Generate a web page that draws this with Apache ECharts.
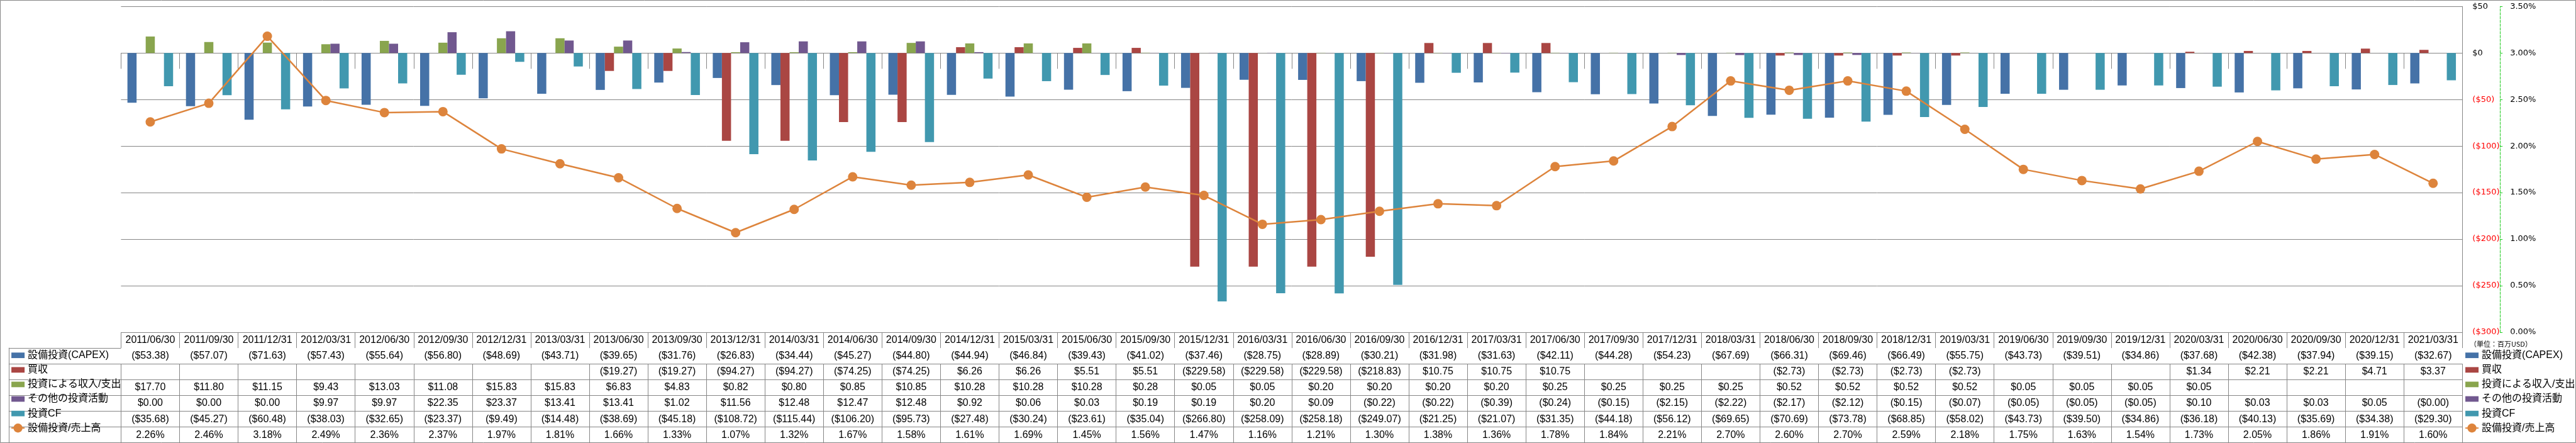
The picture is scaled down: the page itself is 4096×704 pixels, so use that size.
<!DOCTYPE html>
<html><head><meta charset="utf-8">
<script src="https://cdn.jsdelivr.net/npm/echarts@6/dist/echarts.min.js"></script>
<style>html,body{margin:0;padding:0;background:#fff}#c{width:4096px;height:704px}</style>
</head><body><div id="c"></div>
<script>
const categories = ['2011/06/30','2011/09/30','2011/12/31','2012/03/31','2012/06/30','2012/09/30','2012/12/31','2013/03/31','2013/06/30','2013/09/30','2013/12/31','2014/03/31','2014/06/30','2014/09/30','2014/12/31','2015/03/31','2015/06/30','2015/09/30','2015/12/31','2016/03/31','2016/06/30','2016/09/30','2016/12/31','2017/03/31','2017/06/30','2017/09/30','2017/12/31','2018/03/31','2018/06/30','2018/09/30','2018/12/31','2019/03/31','2019/06/30','2019/09/30','2019/12/31','2020/03/31','2020/06/30','2020/09/30','2020/12/31','2021/03/31'];
const capex = [-53.38,-57.07,-71.63,-57.43,-55.64,-56.80,-48.69,-43.71,-39.65,-31.76,-26.83,-34.44,-45.27,-44.80,-44.94,-46.84,-39.43,-41.02,-37.46,-28.75,-28.89,-30.21,-31.98,-31.63,-42.11,-44.28,-54.23,-67.69,-66.31,-69.46,-66.49,-55.75,-43.73,-39.51,-34.86,-37.68,-42.38,-37.94,-39.15,-32.67];
const acquisition = [null,null,null,null,null,null,null,null,-19.27,-19.27,-94.27,-94.27,-74.25,-74.25,6.26,6.26,5.51,5.51,-229.58,-229.58,-229.58,-218.83,10.75,10.75,10.75,null,null,null,-2.73,-2.73,-2.73,-2.73,null,null,null,1.34,2.21,2.21,4.71,3.37];
const investProceeds = [17.70,11.80,11.15,9.43,13.03,11.08,15.83,15.83,6.83,4.83,0.82,0.80,0.85,10.85,10.28,10.28,10.28,0.28,0.05,0.05,0.20,0.20,0.20,0.20,0.25,0.25,0.25,0.25,0.52,0.52,0.52,0.52,0.05,0.05,0.05,0.05,null,null,null,null];
const otherInvesting = [0.00,0.00,0.00,9.97,9.97,22.35,23.37,13.41,13.41,1.02,11.56,12.48,12.47,12.48,0.92,0.06,0.03,0.19,0.19,0.20,0.09,-0.22,-0.22,-0.39,-0.24,-0.15,-2.15,-2.22,-2.17,-2.12,-0.15,-0.07,-0.05,-0.05,-0.05,0.10,0.03,0.03,0.05,-0.00];
const investingCF = [-35.68,-45.27,-60.48,-38.03,-32.65,-23.37,-9.49,-14.48,-38.69,-45.18,-108.72,-115.44,-106.20,-95.73,-27.48,-30.24,-23.61,-35.04,-266.80,-258.09,-258.18,-249.07,-21.25,-21.07,-31.35,-44.18,-56.12,-69.65,-70.69,-73.78,-68.85,-58.02,-43.73,-39.50,-34.86,-36.18,-40.13,-35.69,-34.38,-29.30];
const capexToSales = [2.26,2.46,3.18,2.49,2.36,2.37,1.97,1.81,1.66,1.33,1.07,1.32,1.67,1.58,1.61,1.69,1.45,1.56,1.47,1.16,1.21,1.30,1.38,1.36,1.78,1.84,2.21,2.70,2.60,2.70,2.59,2.18,1.75,1.63,1.54,1.73,2.05,1.86,1.91,1.60];
const seriesNames = ['設備投資(CAPEX)','買収','投資による収入/支出','その他の投資活動','投資CF','設備投資/売上高'];
const seriesColors = ['#4572A7','#AA4643','#89A54E','#71588F','#4198AF','#DD843C'];
const unitLabel = '（単位：百万USD）';

const S = 4096 / 6227;
const gridLeft = 292.5 * S, gridRightX = 5952.3 * S, gridTop = 15.6 * S, gridBottomY = 802.7 * S;
const rowH = (1070 - 802.7) / 7 * S;
const lineColor = '#868686';
const tableFont = "'Liberation Sans', 'Noto Sans CJK JP', sans-serif";
const axisFont = "'DejaVu Sans', sans-serif";

function fmtMoney(v) {
  if (v === null || v === undefined) return '';
  const neg = v < 0 || Object.is(v, -0);
  return neg ? '($' + Math.abs(v).toFixed(2) + ')' : '$' + v.toFixed(2);
}
const rowTexts = [
  categories,
  capex.map(fmtMoney),
  acquisition.map(fmtMoney),
  investProceeds.map(fmtMoney),
  otherInvesting.map(fmtMoney),
  investingCF.map(fmtMoney),
  capexToSales.map(v => v.toFixed(2) + '%')
];

const xAxes = rowTexts.map((txt, k) => ({
  type: 'category', data: categories, gridIndex: 0, position: 'bottom', offset: k * rowH,
  boundaryGap: true,
  axisLine: { show: true, lineStyle: { color: lineColor, width: 1 } },
  axisTick: { show: true, interval: 0, length: rowH, lineStyle: { color: lineColor, width: 1 } },
  axisLabel: { show: true, interval: 0, margin: rowH / 2, verticalAlign: 'middle', fontSize: 16,
    fontFamily: tableFont, color: '#000', formatter: (v, i) => txt[i] },
  splitLine: { show: false }
}));
xAxes.push({
  type: 'category', data: categories, gridIndex: 0, position: 'bottom', offset: 7 * rowH,
  axisLine: { show: true, lineStyle: { color: lineColor, width: 1 } },
  axisTick: { show: false }, axisLabel: { show: false }
});
xAxes.push({ type: 'value', gridIndex: 1, min: 0, max: 1, show: false });

const iconH = 18;
const barIcon = 'path://M0,0h32v13.4h-32z';
const legendData = seriesNames.map((n, i) => i < 5 ? { name: n, icon: barIcon } : { name: n });
const legendBase = {
  data: legendData, orient: 'vertical', top: gridBottomY + rowH + rowH / 2 - iconH / 2,
  itemGap: rowH - iconH, itemWidth: 21, itemHeight: iconH, padding: 0, selectedMode: false,
  symbolKeepAspect: true,
  textStyle: { fontSize: 16, lineHeight: 16, fontFamily: tableFont, color: '#000' }
};

const barSeries = [capex, acquisition, investProceeds, otherInvesting, investingCF].map((d, i) => ({
  name: seriesNames[i], type: 'bar', xAxisIndex: 0, yAxisIndex: 0, data: d,
  barGap: '0%', barCategoryGap: '22%', itemStyle: { color: seriesColors[i] }
}));

const option = {
  animation: false,
  backgroundColor: '#fff',
  title: { text: unitLabel, left: 5970 * S, top: 831 * S - 7, padding: 0,
    textStyle: { fontSize: 11, lineHeight: 14, fontWeight: 'normal', fontFamily: "'Noto Sans CJK JP', sans-serif", color: '#000' } },
  legend: [ Object.assign({ left: 26 * S }, legendBase), Object.assign({ left: 5958 * S }, legendBase) ],
  grid: [
    { left: gridLeft, right: 4096 - gridRightX, top: gridTop, bottom: 704 - gridBottomY, containLabel: false, outerBoundsMode: 'none' },
    { left: 21 * S, width: gridLeft - 21 * S, top: gridBottomY + rowH, height: 6 * rowH, containLabel: false, outerBoundsMode: 'none' }
  ],
  xAxis: xAxes,
  yAxis: [
    { type: 'value', gridIndex: 0, position: 'right', min: -300, max: 50, interval: 50,
      axisLine: { show: true, lineStyle: { color: lineColor, width: 1 } }, axisTick: { show: false },
      axisLabel: { margin: 16, fontSize: 13, fontFamily: axisFont,
        formatter: v => { v = Number(v); return v < 0 ? '($' + (-v) + ')' : '$' + v; },
        color: v => Number(v) < 0 ? '#FF0000' : '#000' },
      splitLine: { show: true, lineStyle: { color: lineColor, width: 1 } } },
    { type: 'value', gridIndex: 0, position: 'right', offset: (6043.3 - 5952.3) * S, min: 0, max: 3.5, interval: 0.5,
      axisLine: { show: true, lineStyle: { color: '#22CC22', type: 'dashed', width: 1 } },
      axisTick: { show: true, length: 5.5, lineStyle: { color: '#22CC22', type: 'dashed', width: 1 } },
      axisLabel: { margin: 16, fontSize: 13, fontFamily: axisFont, color: '#000',
        formatter: v => Number(v).toFixed(2) + '%' },
      splitLine: { show: false } },
    { type: 'category', gridIndex: 1, data: seriesNames, inverse: true, boundaryGap: true,
      axisLine: { show: true, lineStyle: { color: lineColor, width: 1 } }, axisTick: { show: false },
      axisLabel: { show: false }, splitLine: { show: true, interval: 0, lineStyle: { color: lineColor, width: 1 } } }
  ],
  graphic: [{ type: 'rect', shape: { x: 0.5, y: 0.5, width: 4095, height: 703 }, style: { fill: 'none', stroke: lineColor, lineWidth: 1 }, silent: true }],
  series: barSeries.concat([{
    name: seriesNames[5], type: 'line', xAxisIndex: 0, yAxisIndex: 1, data: capexToSales,
    symbol: 'circle', symbolSize: 15, z: 10,
    lineStyle: { color: seriesColors[5], width: 2.5 }, itemStyle: { color: seriesColors[5] }
  }])
};
const chart = echarts.init(document.getElementById('c'), null, { renderer: 'canvas' });
chart.setOption(option);
</script></body></html>
